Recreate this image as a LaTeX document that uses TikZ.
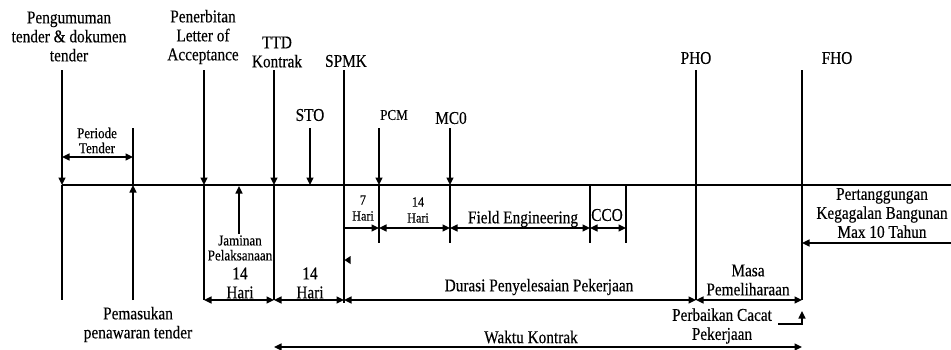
\documentclass[tikz,border=0pt]{standalone}
\usepackage{fontspec}
\setmainfont{Liberation Serif}
\newfontfamily\mainf[FakeStretch=0.85,FakeBold=0.3]{Liberation Serif}
\newfontfamily\smallf[FakeStretch=0.87,FakeBold=0.3]{Liberation Serif}
\usetikzlibrary{arrows.meta}
\tikzset{
  ln/.style={draw=black, line width=1.3pt},
  arr/.style={-{Triangle[length=7.5pt,width=7pt]}},
  darr/.style={{Triangle[length=7.5pt,width=7pt]}-{Triangle[length=7.5pt,width=7pt]}},
  lbl/.style={font=\mainf\fontsize{18}{19}\selectfont, align=center, inner sep=0pt},
  sml/.style={font=\smallf\fontsize{15}{15}\selectfont, align=center, inner sep=0pt},
  hari/.style={font=\smallf\fontsize{14}{16}\selectfont, align=center, inner sep=0pt},
}
\begin{document}
\begin{tikzpicture}[x=1pt,y=-1pt]
\useasboundingbox (0,0) rectangle (951,349);
% coordinates
\coordinate (a0) at (62,70);  \coordinate (a1) at (62,185);  \coordinate (a2) at (62,300);
\coordinate (b0) at (133,128); \coordinate (b1) at (133,185); \coordinate (b2) at (133,300);
\coordinate (c0) at (204,70); \coordinate (c1) at (204,185); \coordinate (c2) at (204,300);
\coordinate (d0) at (274,70); \coordinate (d1) at (274,185); \coordinate (d2) at (274,300);
\coordinate (e0) at (310,128); \coordinate (e1) at (310,185);
\coordinate (f0) at (344,70); \coordinate (f1) at (344,185); \coordinate (f2) at (344,300); \coordinate (f3) at (344,228); \coordinate (f4) at (344,303);
\coordinate (g0) at (379,128); \coordinate (g1) at (379,185); \coordinate (g2) at (379,243); \coordinate (g3) at (379,228);
\coordinate (h0) at (450,128); \coordinate (h1) at (450,185); \coordinate (h2) at (450,243); \coordinate (h3) at (450,228);
\coordinate (i1) at (590,185); \coordinate (i2) at (590,243); \coordinate (i3) at (590,228);
\coordinate (j1) at (626,185); \coordinate (j2) at (626,243); \coordinate (j3) at (626,228);
\coordinate (k0) at (696,70); \coordinate (k2) at (696,300);
\coordinate (l0) at (802,70); \coordinate (l2) at (802,300); \coordinate (l3) at (802,243); \coordinate (l4) at (802,311);
\coordinate (m1) at (951,185); \coordinate (m3) at (951,243);
\coordinate (pt1) at (62,157); \coordinate (pt2) at (133,157);
\coordinate (jm0) at (239,234); \coordinate (jm1) at (239,186);
\coordinate (wk1) at (274,347); \coordinate (wk2) at (802,347);
\coordinate (pc) at (778,324);
\coordinate (tri) at (344,260);

% labels
\node[lbl] (tPeng) at (69,36.5) {Pengumuman\\tender \& dokumen\\tender};
\node[lbl] (tPen) at (203,37) {Penerbitan\\Letter of\\Acceptance};
\node[lbl] (tTTD) at (277,52) {TTD\\Kontrak};
\node[lbl] (tSPMK) at (346,61) {SPMK};
\node[lbl] (tSTO) at (310,115) {STO};
\node[sml] (tPCM) at (394,115) {PCM};
\node[lbl] (tMC) at (451,118) {MC0};
\node[lbl] (tPHO) at (696,58) {PHO};
\node[lbl] (tFHO) at (837,58) {FHO};
\node[sml] (tPer) at (97,140.5) {Periode\\Tender};
\node[hari] (t7) at (363,208) {7\\Hari};
\node[hari] (t14a) at (418,210) {14\\Hari};
\node[lbl] (tFE) at (523,219) {Field Engineering};
\node[lbl] (tCCO) at (607,215) {CCO};
\node[lbl] (tPK) at (882,213) {Pertanggungan\\Kegagalan Bangunan\\Max 10 Tahun};
\node[sml] (tJam) at (240,248) {Jaminan\\Pelaksanaan};
\node[lbl] (t14b) at (240,283) {14\\Hari};
\node[lbl] (t14c) at (310,283) {14\\Hari};
\node[lbl] (tDur) at (539,287) {Durasi Penyelesaian Pekerjaan};
\node[lbl] (tMasa) at (748,280) {Masa\\Pemeliharaan};
\node[lbl] (tPem) at (138,324.5) {Pemasukan\\penawaran tender};
\node[lbl] (tPCP) at (722,326) {Perbaikan Cacat\\Pekerjaan};
\node[lbl] (tWK) at (531,337) {Waktu Kontrak};

% main line
\draw[ln] (a1) -- (m1);
% vertical event lines
\draw[ln,arr] (a0) -- (a1); \draw[ln] (a1) -- (a2);
\draw[ln] (b0) -- (b1); \draw[ln,arr] (b2) -- (b1);
\draw[ln,arr] (c0) -- (c1); \draw[ln] (c1) -- (c2);
\draw[ln,arr] (d0) -- (d1); \draw[ln] (d1) -- (d2);
\draw[ln,arr] (e0) -- (e1);
\draw[ln] (f0) -- (f4);
\draw[ln,arr] (g0) -- (g1); \draw[ln] (g1) -- (g2);
\draw[ln,arr] (h0) -- (h1); \draw[ln] (h1) -- (h2);
\draw[ln] (i1) -- (i2);
\draw[ln] (j1) -- (j2);
\draw[ln] (k0) -- (k2);
\draw[ln] (l0) -- (l2);
% duration arrows
\draw[ln,darr] (pt1) -- (pt2);
\draw[ln,arr] (jm0) -- (jm1);
\draw[ln,arr] (f3) -- (g3);
\draw[ln,darr] (g3) -- (h3);
\draw[ln,darr] (h3) -- (i3);
\draw[ln,darr] (i3) -- (j3);
\draw[ln,darr] (c2) -- (d2);
\draw[ln,darr] (d2) -- (f2);
\draw[ln,darr] (f2) -- (k2);
\draw[ln,darr] (k2) -- (l2);
\draw[ln,arr] (m3) -- (l3);
\draw[ln,arr] (pc) -| (l4);
\draw[ln,darr] (wk1) -- (wk2);
\fill (tri) ++(0.5,0) -- ++(6,-4) -- ++(0,8) -- cycle;
\end{tikzpicture}
\end{document}
